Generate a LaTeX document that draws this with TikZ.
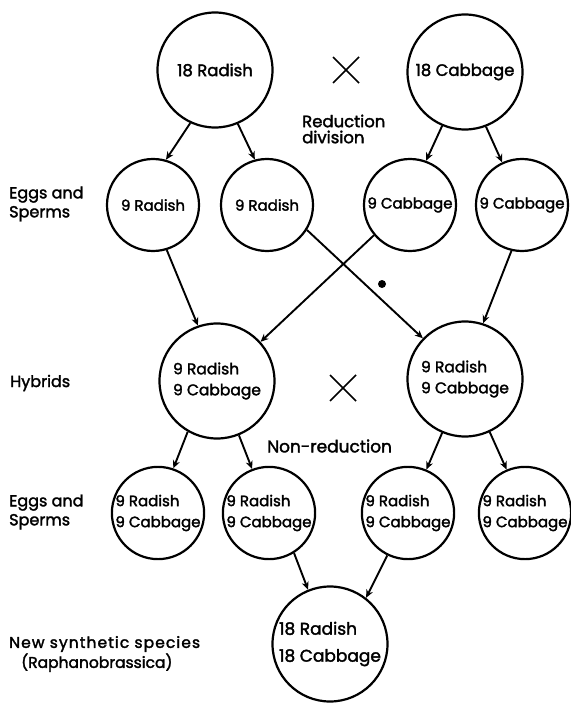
\documentclass[tikz,border=0pt]{standalone}
\usepackage{fontspec}
\setmainfont{Poppins}
\newfontfamily\heavy{Poppins}[FakeBold=2]
\newfontfamily\heavyspaced{Poppins}[FakeBold=2,LetterSpace=7]
\usetikzlibrary{arrows.meta,calc}
\begin{document}
\begin{tikzpicture}[x=1pt,y=-1pt,
  big/.style={circle,draw,line width=2.2pt,minimum size=115pt,inner sep=0pt,font=\heavy\fontsize{15.5}{21}\selectfont,align=left},
  small/.style={circle,draw,line width=2.2pt,minimum size=92pt,inner sep=0pt,font=\heavy\fontsize{15}{21}\selectfont,align=left},
  lab/.style={font=\heavy\fontsize{16}{19}\selectfont,align=left,anchor=west,inner sep=0pt},
  arr/.style={line width=1.9pt,-{Stealth[length=8pt,width=7pt]}},
  crossline/.style={line width=1.6pt}]
\useasboundingbox (0,0) rectangle (570,703);
% top row
\node[big,font=\heavy\fontsize{16.5}{21}\selectfont] (r18) at (215,70) {18 Radish};
\node[big,font=\heavy\fontsize{16.5}{21}\selectfont] (c18) at (465,72) {18 Cabbage};
\coordinate (x1) at (346,70);
\draw[crossline] ($(x1)+(-13,-13)$) -- ($(x1)+(13,13)$);
\draw[crossline] ($(x1)+(-13,13)$) -- ($(x1)+(13,-13)$);
\node[lab,font=\heavy\fontsize{16.5}{16}\selectfont] (red) at (302,129) {Reduction\\division};
% row 2
\node[small] (r9a) at (153,205) {9 Radish};
\node[small] (r9b) at (267,205) {9 Radish};
\node[small] (c9a) at (410,205) {9 Cabbage};
\node[small] (c9b) at (522,205) {9 Cabbage};
\node[lab] (eggs1) at (9,204) {Eggs and\\Sperms};
\draw[arr] (r18.245) -- (r9a.74);
\draw[arr] (r18.293) -- (r9b.105);
\draw[arr] (c18.247) -- (c9a.70);
\draw[arr] (c18.291) -- (c9b.115);
% hybrids
\node[big] (hl) at (217,381) {9 Radish\\9 Cabbage};
\node[big] (hr) at (465,379) {9 Radish\\9 Cabbage};
\node[lab] (hyb) at (10,383) {Hybrids};
\coordinate (x2) at (343,388);
\draw[crossline] ($(x2)+(-13,-13)$) -- ($(x2)+(13,13)$);
\draw[crossline] ($(x2)+(-13,13)$) -- ($(x2)+(13,-13)$);
\draw[arr] (r9a.287) -- (hl.109);
\draw[arr] (r9b.328) -- (hr.136);
\draw[arr] (c9a.220) -- (hl.42);
\draw[arr] (c9b.257) -- (hr.72);
\fill (382,284) circle (4);
\node[lab,font=\heavy\fontsize{17}{19}\selectfont] (nonred) at (267,446) {Non-reduction};
% row 4
\node[small] (e1) at (158,513) {9 Radish\\9 Cabbage};
\node[small] (e2) at (269,513) {9 Radish\\9 Cabbage};
\node[small] (e3) at (408,513) {9 Radish\\9 Cabbage};
\node[small] (e4) at (525,513) {9 Radish\\9 Cabbage};
\node[lab] (eggs2) at (9,512) {Eggs and\\Sperms};
\draw[arr] (hl.240) -- (e1.71);
\draw[arr] (hl.292) -- (e2.111);
\draw[arr] (hr.247) -- (e3.67);
\draw[arr] (hr.295) -- (e4.113);
% bottom
\node[big,font=\heavy\fontsize{17}{27}\selectfont] (nb) at (330,644) {18 Radish\\18 Cabbage};
\node[lab,font=\heavyspaced\fontsize{15.5}{20}\selectfont] (nss) at (9,654) {New synthetic species\\\hspace*{12pt}{\heavy\fontsize{15.5}{20}\selectfont(Raphanobrassica)}};
\draw[arr] (e2.302) -- (nb.112);
\draw[arr] (e3.244) -- (nb.52);
\end{tikzpicture}
\end{document}
